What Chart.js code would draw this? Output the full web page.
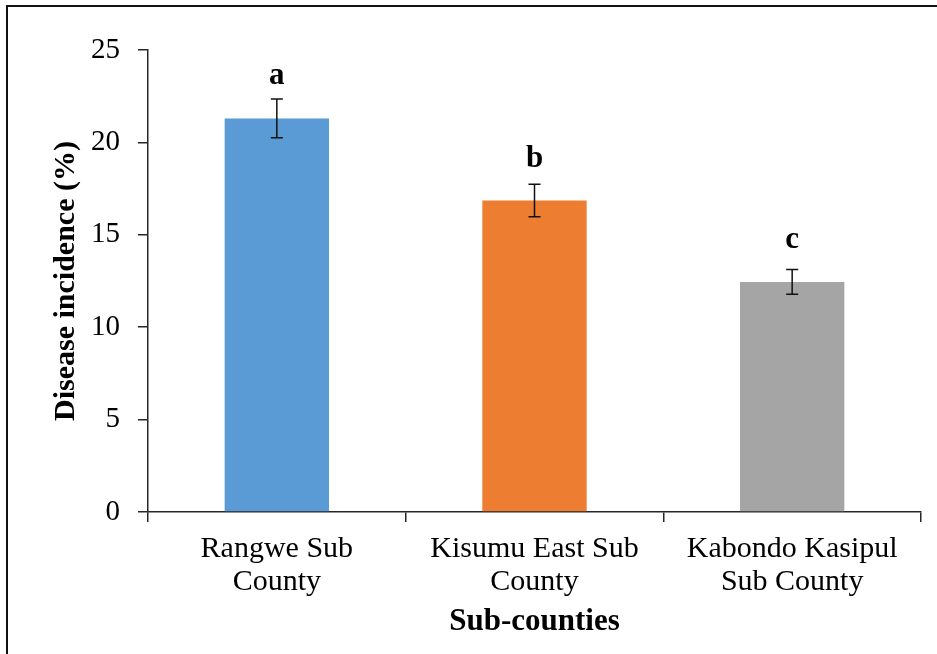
<!DOCTYPE html>
<html>
<head>
<meta charset="utf-8">
<script src="https://cdn.jsdelivr.net/npm/chart.js@4/dist/chart.umd.min.js"></script>
<style>
  html, body { margin: 0; padding: 0; background: #fff; }
  canvas { display: block; }
</style>
</head>
<body>
<canvas id="chart" width="937" height="654"></canvas>
<script>
// Disease incidence by sub-county, with standard errors and significance letters
const categories = [
  ['Rangwe Sub', 'County'],
  ['Kisumu East Sub', 'County'],
  ['Kabondo Kasipul', 'Sub County']
];
const incidence = [21.3, 16.85, 12.45];
const stdError = [1.05, 0.88, 0.67];
const groupLetters = ['a', 'b', 'c'];
const barColors = ['#5B9BD5', '#ED7D31', '#A5A5A5'];
const yTicks = [0, 5, 10, 15, 20, 25];

const SERIF = "'Liberation Serif', 'Times New Roman', serif";
const AXIS_COLOR = '#262626';

// Outer frame around the figure
const framePlugin = {
  id: 'frame',
  afterDraw(chart) {
    const ctx = chart.ctx;
    ctx.save();
    ctx.strokeStyle = '#111';
    ctx.lineWidth = 2;
    ctx.beginPath();
    ctx.moveTo(7, chart.height + 2);
    ctx.lineTo(7, 6);
    ctx.lineTo(chart.width + 2, 6);
    ctx.stroke();
    ctx.restore();
  }
};

// Error bars and letter annotations above each bar
const annotatePlugin = {
  id: 'annotate',
  afterDatasetsDraw(chart) {
    const ctx = chart.ctx;
    const y = chart.scales.y;
    const meta = chart.getDatasetMeta(0);
    ctx.save();
    meta.data.forEach((bar, i) => {
      const v = incidence[i];
      const e = stdError[i];
      const yTop = y.getPixelForValue(v + e);
      const yBot = y.getPixelForValue(v - e);
      const x = bar.x;
      ctx.strokeStyle = '#111';
      ctx.lineWidth = 1.5;
      ctx.beginPath();
      ctx.moveTo(x, yTop); ctx.lineTo(x, yBot);
      ctx.moveTo(x - 6, yTop); ctx.lineTo(x + 6, yTop);
      ctx.moveTo(x - 6, yBot); ctx.lineTo(x + 6, yBot);
      ctx.stroke();

      ctx.fillStyle = '#000';
      ctx.font = 'bold 31px ' + SERIF;
      ctx.textAlign = 'center';
      ctx.textBaseline = 'alphabetic';
      ctx.fillText(groupLetters[i], x, y.getPixelForValue(v) - 34);
    });
    ctx.restore();
  }
};

new Chart(document.getElementById('chart'), {
  type: 'bar',
  data: {
    labels: categories,
    datasets: [{
      data: incidence,
      backgroundColor: barColors,
      borderWidth: 0,
      categoryPercentage: 1.0,
      barPercentage: 0.405
    }]
  },
  options: {
    responsive: false,
    animation: false,
    layout: { padding: { left: 0, right: 16, top: 50, bottom: 0 } },
    plugins: {
      legend: { display: false },
      tooltip: { enabled: false }
    },
    scales: {
      x: {
        grid: {
          display: true,
          offset: true,
          drawOnChartArea: false,
          drawTicks: true,
          tickLength: 10,
          color: AXIS_COLOR,
          lineWidth: 1.5
        },
        border: { display: true, color: AXIS_COLOR, width: 1.5 },
        ticks: {
          color: '#000',
          font: { family: SERIF, size: 30, lineHeight: 1.1 },
          padding: 11,
          maxRotation: 0,
          autoSkip: false
        },
        title: {
          display: true,
          text: 'Sub-counties',
          color: '#000',
          font: { family: SERIF, size: 31, weight: 'bold', lineHeight: 1.2 },
          padding: { top: 0, bottom: 13 }
        },
        afterFit(scale) { scale.height = 142; }
      },
      y: {
        min: 0,
        max: 25,
        afterBuildTicks(scale) { scale.ticks = yTicks.map(v => ({ value: v })); },
        grid: {
          display: true,
          drawOnChartArea: false,
          drawTicks: true,
          tickLength: 10,
          color: AXIS_COLOR,
          lineWidth: 1.5
        },
        border: { display: true, color: AXIS_COLOR, width: 1.5 },
        ticks: {
          color: '#000',
          font: { family: SERIF, size: 29 },
          padding: 18
        },
        title: {
          display: true,
          text: 'Disease incidence (%)',
          color: '#000',
          font: { family: SERIF, size: 30, weight: 'bold', lineHeight: 1.2 },
          padding: { top: 48, bottom: 0 }
        },
        afterFit(scale) { scale.width = 148; }
      }
    }
  },
  plugins: [framePlugin, annotatePlugin]
});
</script>
</body>
</html>
